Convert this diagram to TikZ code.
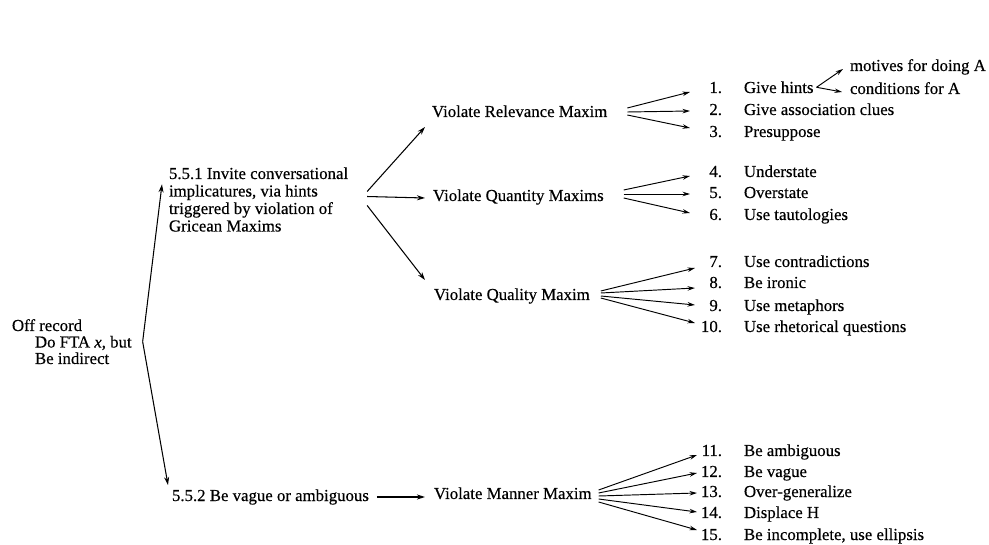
\documentclass[tikz,border=0pt]{standalone}
\usepackage{fontspec}
\setmainfont{Liberation Serif}[FakeBold=0.4]
\usetikzlibrary{arrows.meta}
\newcommand\myitem[2]{\makebox[22pt][r]{#1}\hspace{22pt}#2}
\begin{document}
\begin{tikzpicture}[x=1pt,y=-1pt,
  every node/.style={inner sep=0pt, outer sep=0pt, font=\fontsize{16.8}{17}\selectfont},
  lbl/.style={anchor=base west},
  blk/.style={anchor=base west, align=left},
  arr/.style={line width=1.05pt, -{Stealth[length=8pt,width=5pt,inset=2.5pt]}},
  farr/.style={line width=0.95pt, -{Stealth[length=7.5pt,width=4.5pt,inset=2.5pt]}}]
\useasboundingbox (0,0) rectangle (989,545);

% left block (base anchor = last line)
\node[blk, font=\fontsize{16.8}{16.5}\selectfont] (off) at (12,364) {Off record\\\hspace*{23pt}Do FTA \textit{x}, but\\\hspace*{23pt}Be indirect};
\node[blk, font=\fontsize{16.8}{17.5}\selectfont] (s1) at (169,231.5) {5.5.1 Invite conversational\\implicatures, via hints\\triggered by violation of\\Gricean Maxims};
\node[lbl] (s2) at (172,501) {5.5.2 Be vague or ambiguous};

% maxims
\node[lbl] (rel) at (432,117) {Violate Relevance Maxim};
\node[lbl] (qua) at (433,201) {Violate Quantity Maxims};
\node[lbl] (qual) at (434,300) {Violate Quality Maxim};
\node[lbl] (man) at (434,499) {Violate Manner Maxim};

% items
\node[lbl] (i1) at (700,93) {\myitem{1.}{Give hints}};
\node[lbl] (i2) at (700,115) {\myitem{2.}{Give association clues}};
\node[lbl] (i3) at (700,137) {\myitem{3.}{Presuppose}};
\node[lbl] (i4) at (700,177) {\myitem{4.}{Understate}};
\node[lbl] (i5) at (700,198) {\myitem{5.}{Overstate}};
\node[lbl] (i6) at (700,220) {\myitem{6.}{Use tautologies}};
\node[lbl] (i7) at (700,267) {\myitem{7.}{Use contradictions}};
\node[lbl] (i8) at (700,288) {\myitem{8.}{Be ironic}};
\node[lbl] (i9) at (700,311) {\myitem{9.}{Use metaphors}};
\node[lbl] (i10) at (700,332) {\myitem{10.}{Use rhetorical questions}};
\node[lbl] (i11) at (700,456) {\myitem{11.}{Be ambiguous}};
\node[lbl] (i12) at (700,477) {\myitem{12.}{Be vague}};
\node[lbl] (i13) at (700,497) {\myitem{13.}{Over-generalize}};
\node[lbl] (i14) at (700,518) {\myitem{14.}{Displace H}};
\node[lbl] (i15) at (700,540) {\myitem{15.}{Be incomplete, use ellipsis}};

\node[lbl] (mot) at (850,71) {motives for doing A};
\node[lbl] (cond) at (850,94) {conditions for A};

% bracket
\draw[arr] ([xshift=11pt]off.east) -- ([shift={(-7pt,-17pt)}]s1.north west);
\draw[arr] ([xshift=11pt]off.east) -- ([shift={(-4pt,16pt)}]s2.base west);

% from 5.5.1
\draw[arr] ([shift={(19pt,8pt)}]s1.east) -- ([shift={(-7pt,-10pt)}]rel.base west);
\draw[arr] ([shift={(19pt,3pt)}]s1.east) -- ([shift={(-8pt,3pt)}]qua.base west);
\draw[arr] ([shift={(19pt,-6pt)}]s1.east) -- ([shift={(-9pt,20pt)}]qual.base west);
\draw[arr] ([shift={(8pt,4pt)}]s2.base east) -- ([shift={(-9pt,2pt)}]man.base west);

% relevance fan
\draw[farr] ([shift={(20pt,9pt)}]rel.base east) -- ([shift={(-10pt,1pt)}]i1.base west);
\draw[farr] ([shift={(20pt,5pt)}]rel.base east) -- ([shift={(-10pt,4pt)}]i2.base west);
\draw[farr] ([shift={(20pt,2pt)}]rel.base east) -- ([shift={(-10pt,9pt)}]i3.base west);
% quantity fan
\draw[farr] ([shift={(20pt,11pt)}]qua.base east) -- ([shift={(-10pt,1pt)}]i4.base west);
\draw[farr] ([shift={(20pt,7pt)}]qua.base east) -- ([shift={(-10pt,4pt)}]i5.base west);
\draw[farr] ([shift={(20pt,3pt)}]qua.base east) -- ([shift={(-10pt,7pt)}]i6.base west);
% quality fan
\draw[farr] ([shift={(11pt,9pt)}]qual.base east) -- ([shift={(-5pt,-1pt)}]i7.base west);
\draw[farr] ([shift={(11pt,7pt)}]qual.base east) -- ([shift={(-5pt,0pt)}]i8.base west);
\draw[farr] ([shift={(11pt,4pt)}]qual.base east) -- ([shift={(-5pt,6pt)}]i9.base west);
\draw[farr] ([shift={(11pt,2pt)}]qual.base east) -- ([shift={(-5pt,9pt)}]i10.base west);
% manner fan
\draw[farr] ([shift={(7pt,9pt)}]man.base east) -- ([shift={(-3pt,1pt)}]i11.base west);
\draw[farr] ([shift={(7pt,6pt)}]man.base east) -- ([shift={(-3pt,4pt)}]i12.base west);
\draw[farr] ([shift={(7pt,3pt)}]man.base east) -- ([shift={(-3pt,4pt)}]i13.base west);
\draw[farr] ([shift={(7pt,0pt)}]man.base east) -- ([shift={(-3pt,6pt)}]i14.base west);
\draw[farr] ([shift={(7pt,-3pt)}]man.base east) -- ([shift={(-3pt,10pt)}]i15.base west);

% give hints
\draw[farr] ([xshift=3pt]i1.east) -- ([shift={(-7pt,2pt)}]mot.base west);
\draw[farr] ([xshift=3pt]i1.east) -- ([shift={(-8pt,2pt)}]cond.base west);
\end{tikzpicture}
\end{document}
